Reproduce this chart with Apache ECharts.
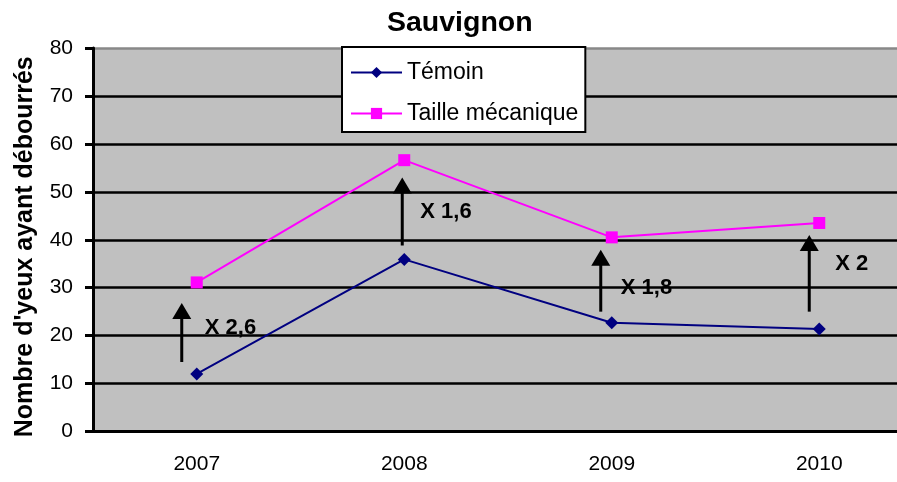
<!DOCTYPE html>
<html>
<head>
<meta charset="utf-8">
<title>Sauvignon</title>
<script src="https://cdn.jsdelivr.net/npm/echarts@6/dist/echarts.min.js"></script>
<style>
  html, body { margin: 0; padding: 0; background: #fff; }
  #main { width: 897px; height: 482px; }
</style>
</head>
<body>
<div id="main"></div>
<script>
// data
var years = ['2007', '2008', '2009', '2010'];
var temoin = [12.0, 35.9, 22.7, 21.4];
var taille = [31.1, 56.6, 40.5, 43.5];
// arrows: from / to (y values) and the ratio written beside them
var arrowFrom = [14.5, 38.8, 25.0, 25.0];
var arrowTo = [26.8, 53.0, 37.9, 41.0];
var ratioLabels = ['X 2,6', 'X 1,6', 'X 1,8', 'X 2'];
var ratioY = [21.6, 45.8, 29.9, 34.9];
var yTicks = [0, 10, 20, 30, 40, 50, 60, 70, 80];

var FONT = 'Liberation Sans, Arial, sans-serif';
var arrowShift = [-15, -2, -11, -10];   // px from category centre
var labelShift = [23, 18, 20, 26];      // px from arrow

var myChart = echarts.init(document.getElementById('main'));

var arrowData = years.map(function (y, i) {
    return [i, arrowFrom[i], arrowTo[i], ratioY[i]];
});

var option = {
    animation: false,
    backgroundColor: '#fff',
    title: {
        text: 'Sauvignon',
        left: 382,
        top: 4,
        textStyle: { fontFamily: FONT, fontSize: 28.5, fontWeight: 'bold', color: '#000' }
    },
    legend: {
        data: ['Témoin', 'Taille mécanique'],
        orient: 'vertical',
        left: 342,
        top: 47,
        backgroundColor: '#fff',
        borderColor: '#000',
        borderWidth: 2,
        borderRadius: 0,
        padding: [14, 7, 7, 8],
        itemWidth: 51,
        itemHeight: 14,
        itemGap: 18,
        textStyle: { fontFamily: FONT, fontSize: 23, color: '#000' }
    },
    grid: {
        left: 93,
        top: 48,
        width: 830,
        height: 383.5,
        show: true,
        backgroundColor: '#c0c0c0',
        borderWidth: 0,
        containLabel: false,
        outerBoundsMode: 'none'
    },
    xAxis: {
        type: 'category',
        data: years,
        axisLine: { lineStyle: { color: '#000', width: 3 } },
        axisTick: { length: 9, lineStyle: { color: '#000', width: 3 } },
        axisLabel: { margin: 22, fontFamily: FONT, fontSize: 21, color: '#000' },
        splitLine: { show: false }
    },
    yAxis: {
        type: 'value',
        min: yTicks[0],
        max: yTicks[yTicks.length - 1],
        interval: 10,
        name: "Nombre d'yeux ayant débourrés",
        nameLocation: 'middle',
        nameGap: 55,
        nameTextStyle: {
            fontFamily: FONT, fontSize: 25, fontWeight: 'bold', color: '#000',
            padding: [0, 14, 0, 0]
        },
        axisLine: { show: true, lineStyle: { color: '#000', width: 3 } },
        axisTick: { show: true, length: 8, lineStyle: { color: '#000', width: 3 } },
        axisLabel: { margin: 20, fontFamily: FONT, fontSize: 21, color: '#000' },
        splitLine: {
            lineStyle: {
                color: ['#000', '#000', '#000', '#000', '#000', '#000', '#000', '#000', '#888'],
                width: 2.5
            }
        }
    },
    series: [
        {
            name: 'Témoin',
            type: 'line',
            data: temoin,
            symbol: 'diamond',
            symbolSize: 13,
            color: '#000080',
            lineStyle: { color: '#000080', width: 2 },
            itemStyle: { color: '#000080' },
            z: 3
        },
        {
            name: 'Taille mécanique',
            type: 'line',
            data: taille,
            symbol: 'rect',
            symbolSize: 12,
            color: '#ff00ff',
            lineStyle: { color: '#ff00ff', width: 2 },
            itemStyle: { color: '#ff00ff' },
            z: 3
        },
        {
            type: 'custom',
            data: arrowData,
            encode: { x: 0, y: [1, 2] },
            z: 4,
            silent: true,
            renderItem: function (params, api) {
                var i = params.dataIndex;
                var base = api.coord([api.value(0), api.value(1)]);
                var tip = api.coord([api.value(0), api.value(2)]);
                var lab = api.coord([api.value(0), api.value(3)]);
                var x = base[0] + arrowShift[i];
                return {
                    type: 'group',
                    children: [
                        {
                            type: 'line',
                            shape: { x1: x, y1: base[1], x2: x, y2: tip[1] + 12 },
                            style: { stroke: '#000', lineWidth: 3 }
                        },
                        {
                            type: 'polygon',
                            shape: { points: [[x, tip[1]], [x - 9.5, tip[1] + 16], [x + 9.5, tip[1] + 16]] },
                            style: { fill: '#000' }
                        },
                        {
                            type: 'text',
                            x: x + labelShift[i],
                            y: lab[1],
                            style: {
                                text: ratioLabels[i],
                                font: 'bold 22px ' + FONT,
                                fill: '#000',
                                verticalAlign: 'middle',
                                align: 'left'
                            }
                        }
                    ]
                };
            }
        }
    ]
};

myChart.setOption(option);
</script>
</body>
</html>
